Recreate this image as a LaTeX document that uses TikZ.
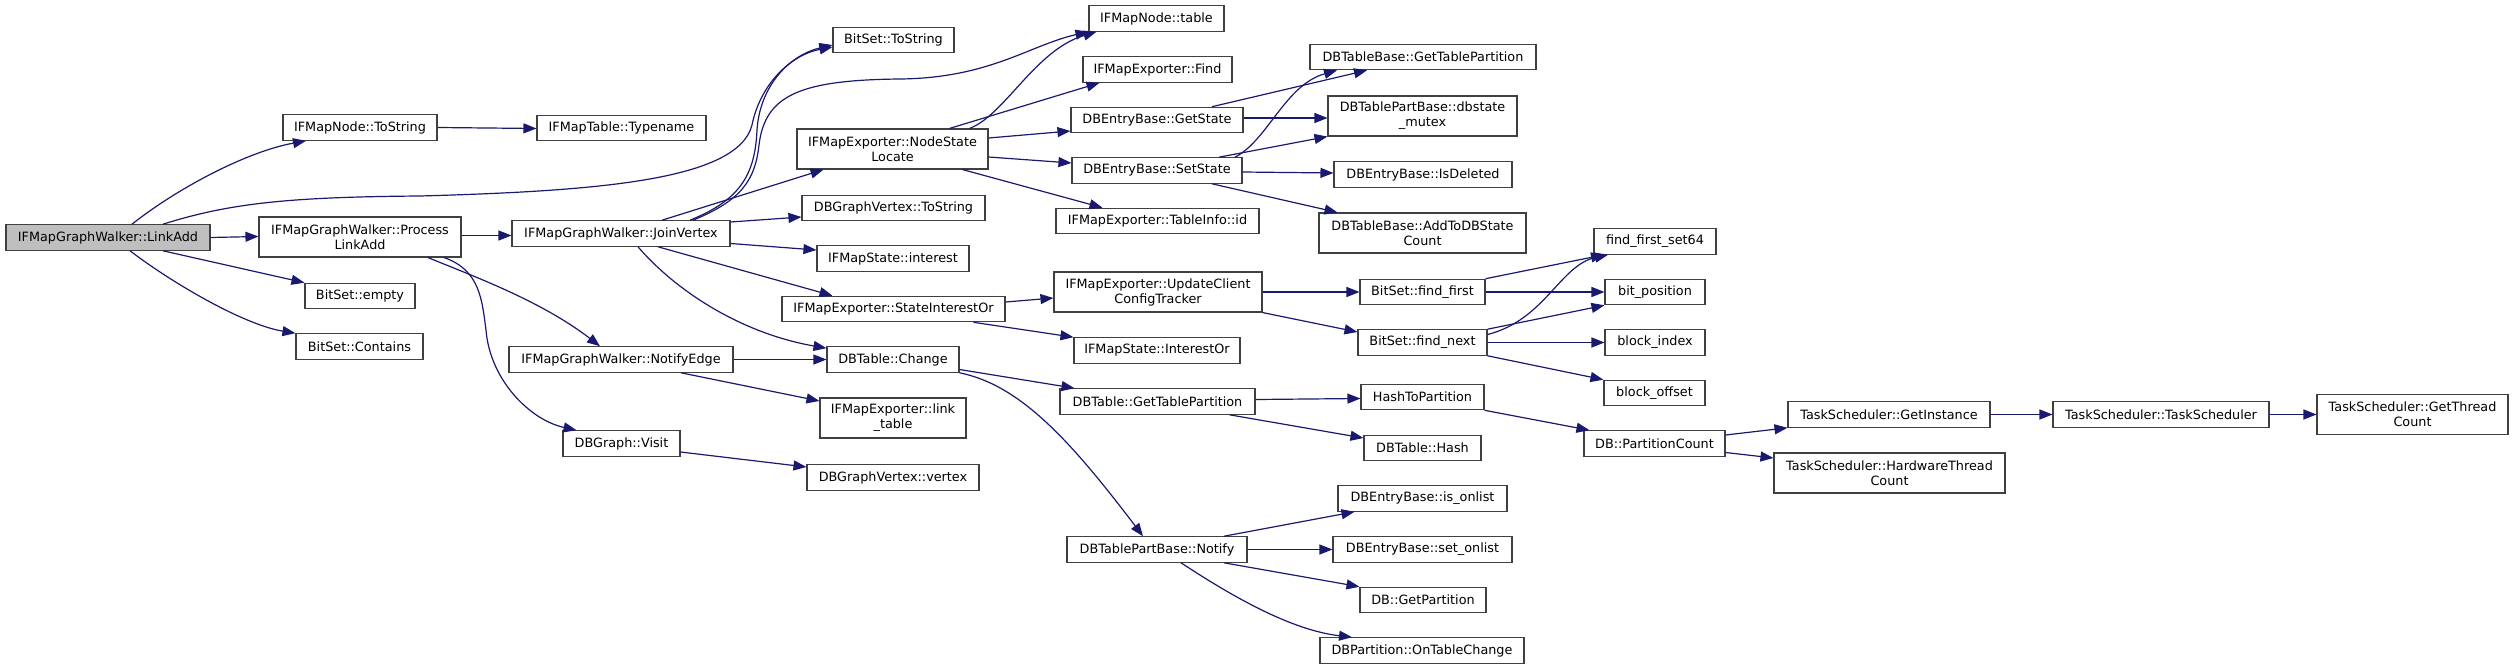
\documentclass[tikz,border=0pt]{standalone}
\usepackage{fontspec}
\setmainfont{DejaVu Sans}
\usetikzlibrary{arrows.meta}
\definecolor{navyc}{HTML}{191970}
\definecolor{rootgray}{HTML}{BFBFBF}
\definecolor{bordergray}{HTML}{404040}
\newcommand\nodefont{\fontsize{12.8}{15}\selectfont}
\begin{document}
\begin{tikzpicture}[x=1pt,y=-1pt,
  box/.style={draw=bordergray, line width=1.1pt, fill=white, minimum height=25.5pt, inner sep=0pt, align=center, font=\nodefont},
  tall/.style={minimum height=40pt},
  edge/.style={draw=navyc, line width=1.2pt, -{Triangle[length=13pt,width=10pt]}}]
\useasboundingbox (0,0) rectangle (2515,669);
% column 1
\node[box, fill=rootgray, minimum width=204pt] (linkadd) at (108,237.5) {IFMapGraphWalker::LinkAdd};
% column 2
\node[box, minimum width=154pt] (ntostr) at (360,127.5) {IFMapNode::ToString};
\node[box, tall, minimum width=202pt] (plink) at (360,237) {IFMapGraphWalker::Process\\LinkAdd};
\node[box, minimum width=110pt] (bempty) at (360,296) {BitSet::empty};
\node[box, minimum width=127pt] (bcont) at (359.5,346.5) {BitSet::Contains};
% column 3
\node[box, minimum width=169pt] (typename) at (621.5,128) {IFMapTable::Typename};
\node[box, minimum width=218pt] (join) at (621,233.5) {IFMapGraphWalker::JoinVertex};
\node[box, minimum width=224pt] (nedge) at (621,359.5) {IFMapGraphWalker::NotifyEdge};
\node[box, minimum width=117pt] (visit) at (621.5,443.5) {DBGraph::Visit};
% column 4
\node[box, minimum width=121pt] (btostr) at (893.5,40) {BitSet::ToString};
\node[box, tall, minimum width=191pt] (nsl) at (892.5,149) {IFMapExporter::NodeState\\Locate};
\node[box, minimum width=183pt] (gvtostr) at (893.5,208) {DBGraphVertex::ToString};
\node[box, minimum width=152pt] (interest) at (893,258.5) {IFMapState::interest};
\node[box, minimum width=223pt] (sio) at (893.5,309) {IFMapExporter::StateInterestOr};
\node[box, minimum width=132pt] (change) at (893,359.5) {DBTable::Change};
\node[box, tall, minimum width=146pt] (linktable) at (893,418) {IFMapExporter::link\\\_table};
\node[box, minimum width=172pt] (vertex) at (893,477.5) {DBGraphVertex::vertex};
% column 5
\node[box, minimum width=135pt] (ntable) at (1156.5,18.5) {IFMapNode::table};
\node[box, minimum width=149pt] (find) at (1157.5,69.5) {IFMapExporter::Find};
\node[box, minimum width=172pt] (getstate) at (1157,120) {DBEntryBase::GetState};
\node[box, minimum width=170pt] (setstate) at (1157,170.5) {DBEntryBase::SetState};
\node[box, minimum width=203pt] (tinfo) at (1157.5,221) {IFMapExporter::TableInfo::id};
\node[box, tall, minimum width=208pt] (ucct) at (1158,292) {IFMapExporter::UpdateClient\\ConfigTracker};
\node[box, minimum width=166pt] (interestor) at (1157,350.5) {IFMapState::InterestOr};
\node[box, minimum width=195pt] (tgtp) at (1157.5,401.5) {DBTable::GetTablePartition};
\node[box, minimum width=180pt] (notify) at (1157,549.5) {DBTablePartBase::Notify};
% column 6
\node[box, minimum width=226pt] (bgtp) at (1423,57) {DBTableBase::GetTablePartition};
\node[box, tall, minimum width=189pt] (mutex) at (1422.5,116) {DBTablePartBase::dbstate\\\_mutex};
\node[box, minimum width=178pt] (isdel) at (1423,174.5) {DBEntryBase::IsDeleted};
\node[box, tall, minimum width=207pt] (addcount) at (1422.5,233) {DBTableBase::AddToDBState\\Count};
\node[box, minimum width=125pt] (ffirst) at (1422.5,292) {BitSet::find\_first};
\node[box, minimum width=129pt] (fnext) at (1422.5,342.5) {BitSet::find\_next};
\node[box, minimum width=123pt] (h2p) at (1422.5,397) {HashToPartition};
\node[box, minimum width=117pt] (thash) at (1422.5,448) {DBTable::Hash};
\node[box, minimum width=169pt] (isonl) at (1422.5,498.5) {DBEntryBase::is\_onlist};
\node[box, minimum width=179pt] (setonl) at (1422.5,549.5) {DBEntryBase::set\_onlist};
\node[box, minimum width=126pt] (getpart) at (1423,600) {DB::GetPartition};
\node[box, minimum width=204pt] (ontc) at (1422,650.5) {DBPartition::OnTableChange};
% column 7
\node[box, minimum width=122pt] (ffs) at (1655,241.5) {find\_first\_set64};
\node[box, minimum width=100pt] (bitpos) at (1655,292) {bit\_position};
\node[box, minimum width=100pt] (bidx) at (1655,342.5) {block\_index};
\node[box, minimum width=101pt] (boff) at (1654.5,393) {block\_offset};
\node[box, minimum width=141pt] (pcount) at (1654.5,443.5) {DB::PartitionCount};
% columns 8-10
\node[box, minimum width=202pt] (ginst) at (1889,414.5) {TaskScheduler::GetInstance};
\node[box, tall, minimum width=231pt] (hwtc) at (1889.5,473) {TaskScheduler::HardwareThread\\Count};
\node[box, minimum width=216pt] (tsched) at (2161,414.5) {TaskScheduler::TaskScheduler};
\node[box, tall, minimum width=191pt] (gtc) at (2412.5,414.5) {TaskScheduler::GetThread\\Count};

% edges from LinkAdd
\draw[edge] ([xshift=24pt]linkadd.north) .. controls (175,190) and (245,152) .. ([xshift=-54pt]ntostr.south);
\draw[edge] ([xshift=55pt]linkadd.north) .. controls (230,203) and (290,197) .. (420,196) .. controls (600,191) and (738,180) .. (752,125) .. controls (760,85) and (790,55) .. ([yshift=-7pt]btostr.west);
\draw[edge] (linkadd.east) -- ([yshift=0.5pt]plink.west);
\draw[edge] ([xshift=55pt]linkadd.south) -- (bempty.north west);
\draw[edge] ([xshift=22pt]linkadd.south) .. controls (175,285) and (245,325) .. (bcont.north west);
% column 2
\draw[edge] (ntostr.east) -- ([yshift=-0.5pt]typename.west);
\draw[edge] ([yshift=1.5pt]plink.east) -- ([yshift=-2pt]join.west);
\draw[edge] ([xshift=68pt]plink.south) .. controls (470,275) and (540,300) .. ([xshift=-21pt]nedge.north);
\draw[edge] ([xshift=84pt]plink.south) .. controls (480,270) and (482,300) .. (486,330) .. controls (490,380) and (530,420) .. ([xshift=-45pt]visit.north);
% JoinVertex
\draw[edge] ([xshift=69pt]join.north) .. controls (740,200) and (755,175) .. (757,130) .. controls (760,85) and (790,55) .. ([yshift=-5pt]btostr.west);
\draw[edge] ([xshift=72pt]join.north) .. controls (742,200) and (755,180) .. (759,145) .. controls (765,95) and (800,80) .. (900,79) .. controls (990,78) and (1030,45) .. (ntable.south west);
\draw[edge] ([xshift=41pt]join.north) -- ([xshift=-69pt]nsl.south);
\draw[edge] ([yshift=11.5pt]join.east) -- ([yshift=-9pt]gvtostr.west);
\draw[edge] ([yshift=-10pt]join.east) -- ([yshift=8.5pt]interest.west);
\draw[edge] ([xshift=37pt]join.south) -- ([xshift=-61pt]sio.north);
\draw[edge] ([xshift=17pt]join.south) .. controls (675,290) and (740,333) .. ([yshift=-2pt]change.north west);
\draw[edge] (nedge.east) -- (change.west);
\draw[edge] ([xshift=60pt]nedge.south) -- ([yshift=17pt]linktable.west);
\draw[edge] ([yshift=-8.5pt]visit.east) -- ([yshift=10.5pt]vertex.west);
% NodeStateLocate
\draw[edge] ([xshift=57pt]nsl.north) -- ([xshift=-58pt]find.south);
\draw[edge] ([xshift=77pt]nsl.north) .. controls (1005,115) and (1035,50) .. ([xshift=8pt]ntable.south west);
\draw[edge] ([yshift=11pt]nsl.east) -- ([yshift=-11pt]getstate.west);
\draw[edge] ([yshift=-8pt]nsl.east) -- ([yshift=7.5pt]setstate.west);
\draw[edge] ([xshift=70pt]nsl.south) -- ([xshift=-55pt]tinfo.north);
% GetState / SetState
\draw[edge] ([xshift=55pt]getstate.north) -- ([xshift=-56pt]bgtp.south);
\draw[edge] ([yshift=2pt]getstate.east) -- ([yshift=-2pt]mutex.west);
\draw[edge] ([xshift=78pt]setstate.north) .. controls (1268,140) and (1285,85) .. ([xshift=-86pt]bgtp.south);
\draw[edge] ([xshift=62pt]setstate.north) -- (mutex.south west);
\draw[edge] ([yshift=-1.5pt]setstate.east) -- ([yshift=1.5pt]isdel.west);
\draw[edge] ([xshift=55pt]setstate.south) -- ([xshift=-85pt]addcount.north);
% StateInterestOr
\draw[edge] ([yshift=7pt]sio.east) -- ([yshift=-6pt]ucct.west);
\draw[edge] ([xshift=80pt]sio.south) -- (interestor.north west);
\draw[edge] (ucct.east) -- (ffirst.west);
\draw[edge] (ucct.south east) -- ([yshift=10.5pt]fnext.west);
\draw[edge] (ffirst.north east) -- ([xshift=-51pt]ffs.south);
\draw[edge] (ffirst.east) -- (bitpos.west);
\draw[edge] ([yshift=8pt]fnext.east) .. controls (1545,320) and (1560,265) .. ([xshift=-47pt]ffs.south);
\draw[edge] (fnext.north east) -- (bitpos.south west);
\draw[edge] (fnext.east) -- (bidx.west);
\draw[edge] (fnext.south east) -- (boff.north west);
% DBTable::Change
\draw[edge] ([yshift=-10pt]change.east) -- ([xshift=-83pt]tgtp.north);
\draw[edge] (change.south east) .. controls (1020,385) and (1070,440) .. ([xshift=-14pt]notify.north);
\draw[edge] ([yshift=2pt]tgtp.east) -- ([yshift=-1.5pt]h2p.west);
\draw[edge] ([xshift=72pt]tgtp.south) -- ([yshift=10pt]thash.west);
\draw[edge] (h2p.south east) -- ([xshift=6pt]pcount.north west);
% Notify
\draw[edge] ([xshift=67pt]notify.north) -- ([xshift=-68pt]isonl.south);
\draw[edge] (notify.east) -- (setonl.west);
\draw[edge] ([xshift=67pt]notify.south) -- (getpart.north west);
\draw[edge] ([xshift=24pt]notify.south) .. controls (1230,595) and (1290,630) .. ([xshift=-70pt]ontc.north);
% PartitionCount
\draw[edge] ([yshift=8.5pt]pcount.east) -- (ginst.south west);
\draw[edge] ([yshift=-9pt]pcount.east) -- ([yshift=15pt]hwtc.west);
\draw[edge] (ginst.east) -- (tsched.west);
\draw[edge] (tsched.east) -- (gtc.west);
\end{tikzpicture}
\end{document}
